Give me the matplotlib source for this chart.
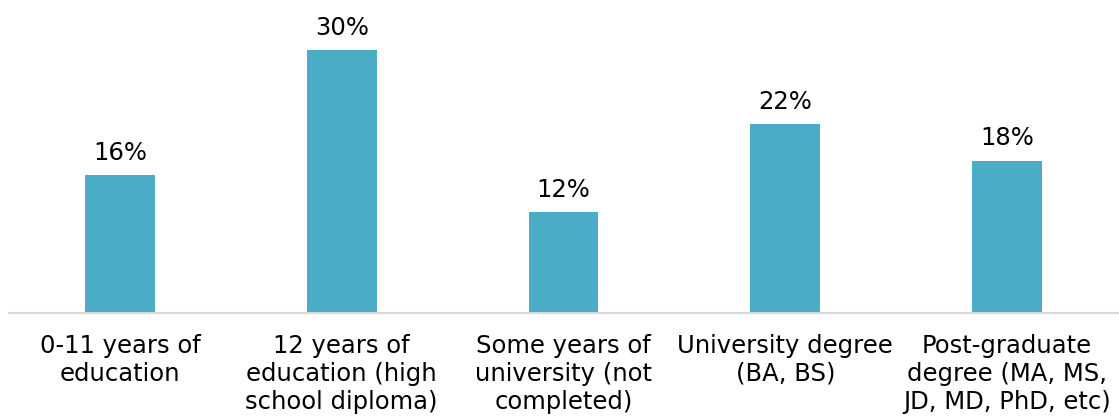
import matplotlib

matplotlib.use("Agg")
import matplotlib.pyplot as plt

categories = [
    "0-11 years of\neducation",
    "12 years of\neducation (high\nschool diploma)",
    "Some years of\nuniversity (not\ncompleted)",
    "University degree\n(BA, BS)",
    "Post-graduate\ndegree (MA, MS,\nJD, MD, PhD, etc)",
]
shares = [15.9, 30.4, 11.6, 21.8, 17.6]

BAR_COLOR = "#4BACC6"
AXIS_COLOR = "#D9D9D9"

plt.rcParams["font.family"] = ["DejaVu Sans"]

fig = plt.figure(figsize=(11.19, 4.16), dpi=100)
ax = fig.add_axes([9 / 1119, (416 - 312.5) / 416, 1109 / 1119, 312.5 / 416])

x = list(range(len(categories)))
bars = ax.bar(x, shares, width=0.315, color=BAR_COLOR)

for rect, val in zip(bars, shares):
    ax.annotate(
        f"{val:.0f}%",
        (rect.get_x() + rect.get_width() / 2, rect.get_height()),
        xytext=(0, 7.5),
        textcoords="offset points",
        ha="center",
        va="bottom",
        fontsize=17.5,
        color="black",
    )

ax.set_xlim(-0.5, len(categories) - 0.5)
ax.set_ylim(0, 36.2)
ax.set_xticks(x)
ax.set_xticklabels(categories, fontsize=17.5, linespacing=1.2)
ax.tick_params(axis="x", length=0, pad=15.5)
ax.set_yticks([])

for side in ("top", "right", "left"):
    ax.spines[side].set_visible(False)
ax.spines["bottom"].set_color(AXIS_COLOR)
ax.spines["bottom"].set_linewidth(1.5)

fig.savefig("out.png", dpi=100)
plt.close(fig)
